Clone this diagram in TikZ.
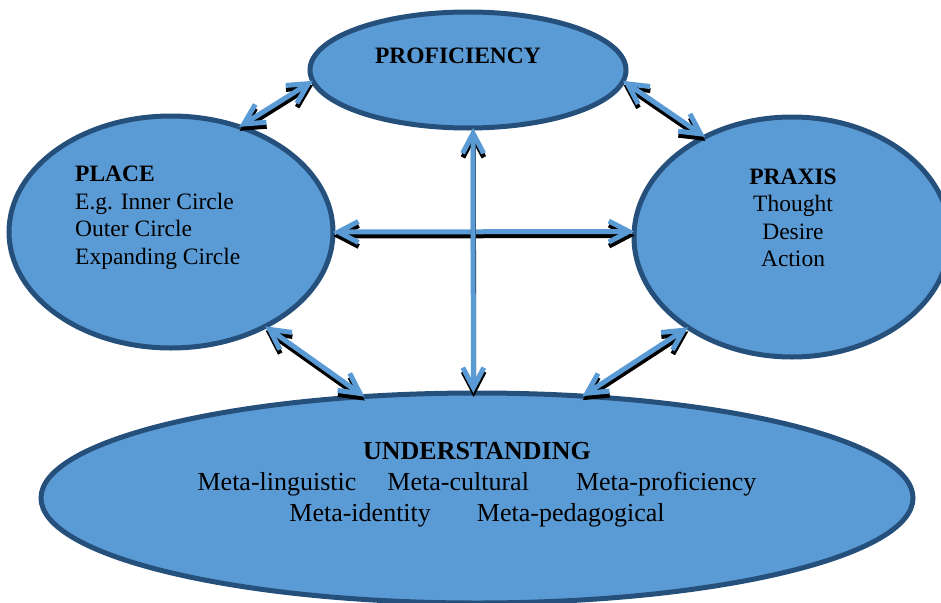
\documentclass[tikz,border=0pt]{standalone}
\usepackage{fontspec}
\setmainfont{Liberation Serif}
\usepackage{tikz}
\usetikzlibrary{arrows.meta,shapes.geometric}
\definecolor{ovalblue}{RGB}{91,155,213}
\definecolor{ovaledge}{RGB}{38,80,124}
\definecolor{arrowblue}{RGB}{91,155,213}
\tikzset{
  oval/.style={ellipse, draw=ovaledge, fill=ovalblue, line width=5pt, inner sep=0pt, outer sep=0pt},
  twoheads/.style={{Straight Barb[length=20pt,width=21pt]}-{Straight Barb[length=20pt,width=21pt]}},
  arrow/.style={twoheads, line width=5pt, draw=arrowblue},
  arrowshadow/.style={twoheads, line width=5pt, draw=black, transform canvas={shift={(0.3pt,-4pt)}}},
  ovaltext/.style={inner sep=0pt, font=\fontsize{23.5}{27.5}\selectfont}
}

\begin{document}
\begin{tikzpicture}[x=1pt, y=-1pt]
    \useasboundingbox (0,0) rectangle (941,602);
    \clip (0,0) rectangle (941,602);

    % Ovals
    \node[oval, minimum width=316pt, minimum height=116pt] (prof) at (468,70) {};
    \node[oval, minimum width=324pt, minimum height=232pt] (place) at (171,232) {};
    \node[oval, minimum width=316pt, minimum height=240pt] (praxis) at (792,237) {};
    \node[oval, minimum width=872pt, minimum height=210pt] (und) at (477,498) {};

    % Texts
    \node[ovaltext, font=\fontsize{23.5}{27.5}\selectfont\bfseries] (proftext) at (458,56) {PROFICIENCY};
    \node[ovaltext, align=left, anchor=west] (placetext) at (75,218) {\textbf{PLACE}\\E.g. Inner Circle\\Outer Circle\\Expanding Circle};
    \node[ovaltext, align=center] (praxistext) at (793,218) {\textbf{PRAXIS}\\Thought\\Desire\\Action};
    \node[ovaltext, align=center, font=\fontsize{26}{31}\selectfont] (undtext) at (477,484.5) {\textbf{UNDERSTANDING}\\Meta-linguistic\hspace{31pt}Meta-cultural\hspace{47pt}Meta-proficiency\\Meta-identity\hspace{46pt}Meta-pedagogical};

    % Arrows with shadows
    \foreach \a/\b in {place.57.9/prof.184.8, prof.-4.8/praxis.131.1, place.0/praxis.178.6,
                       prof.-85/und.92.2, place.-45.3/und.138.6, und.44.7/praxis.-139.4} {
        \draw[arrowshadow] (\a) -- (\b);
        \draw[arrow] (\a) -- (\b);
    }
\end{tikzpicture}
\end{document}
